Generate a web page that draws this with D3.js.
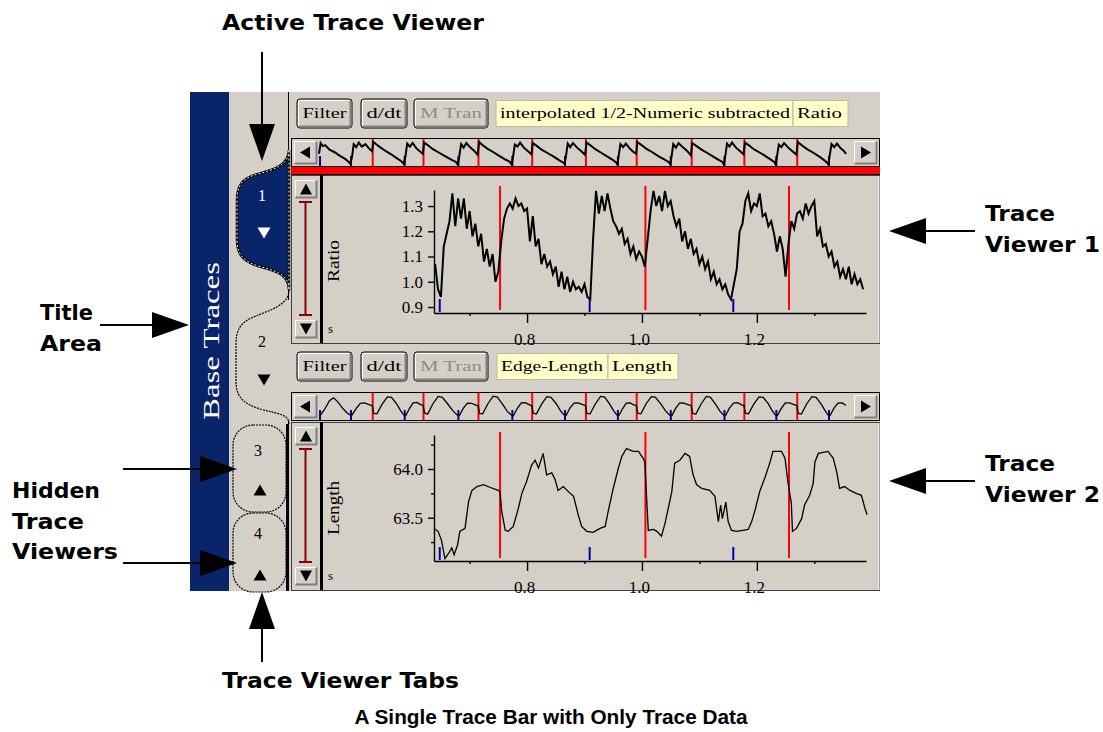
<!DOCTYPE html>
<html>
<head>
<meta charset="utf-8">
<script src="https://cdn.jsdelivr.net/npm/d3@7"></script>
<style>
  body { margin: 0; background: #fff; }
  svg { display: block; }
</style>
</head>
<body>
<svg id="chart" width="1103" height="732"></svg>
<script>
// ---- data ----
// Ratio trace, sampled every 5 ms from 0.640 s
var ratioStart = 0.640, ratioStep = 0.005;
var ratioValues = [
  1.07,0.97,0.94,1.14,1.19,1.24,1.35,1.22,1.33,1.25,
  1.33,1.21,1.28,1.18,1.23,1.14,1.19,1.08,1.13,1.06,
  1.11,1.00,1.04,1.16,1.25,1.29,1.31,1.29,1.33,1.30,
  1.31,1.28,1.29,1.16,1.26,1.14,1.17,1.07,1.11,1.06,
  1.08,1.03,1.06,0.98,1.04,0.97,1.02,0.96,1.00,0.97,
  0.98,0.96,0.99,0.94,0.93,1.17,1.36,1.27,1.34,1.28,
  1.35,1.29,1.24,1.22,1.19,1.21,1.15,1.17,1.11,1.14,
  1.09,1.12,1.10,1.06,1.17,1.28,1.36,1.30,1.34,1.28,
  1.36,1.30,1.32,1.26,1.22,1.25,1.16,1.20,1.13,1.17,
  1.11,1.13,1.07,1.10,1.05,1.08,1.01,1.04,0.99,1.01,
  0.97,0.99,0.95,0.93,0.99,1.05,1.20,1.23,1.32,1.35,
  1.28,1.31,1.30,1.35,1.26,1.27,1.22,1.24,1.19,1.12,
  1.18,1.13,1.02,1.15,1.24,1.21,1.27,1.28,1.25,1.31,
  1.27,1.30,1.32,1.18,1.21,1.14,1.15,1.10,1.12,1.06,
  1.08,1.02,1.05,1.01,1.06,0.99,1.03,0.99,1.01,0.97
];

// Edge-Length trace as [time s, length]
var lengthPoints = [
  [0.638,63.39],[0.645,63.36],[0.651,63.27],[0.657,63.08],[0.663,63.13],[0.669,63.19],
  [0.673,63.12],[0.679,63.22],[0.683,63.36],[0.692,63.39],[0.698,63.66],[0.704,63.78],
  [0.713,63.82],[0.724,63.84],[0.736,63.81],[0.750,63.78],[0.753,63.76],[0.756,63.56],
  [0.762,63.37],[0.767,63.36],[0.776,63.41],[0.785,63.60],[0.791,63.75],[0.799,63.87],
  [0.808,64.04],[0.814,64.09],[0.820,64.01],[0.828,64.16],[0.834,63.94],[0.843,63.96],
  [0.849,63.89],[0.854,63.78],[0.863,63.82],[0.875,63.75],[0.881,63.72],[0.889,63.53],
  [0.895,63.41],[0.904,63.36],[0.915,63.35],[0.927,63.39],[0.936,63.41],[0.941,63.56],
  [0.950,63.80],[0.959,64.01],[0.965,64.13],[0.973,64.21],[0.985,64.18],[0.994,64.18],
  [1.002,64.11],[1.005,64.07],[1.008,63.72],[1.011,63.37],[1.020,63.38],[1.026,63.36],
  [1.034,63.31],[1.040,63.44],[1.046,63.60],[1.052,63.77],[1.057,64.06],[1.066,64.09],
  [1.075,64.16],[1.083,64.13],[1.089,63.94],[1.095,63.84],[1.104,63.80],[1.118,63.78],
  [1.127,63.72],[1.133,63.46],[1.137,63.63],[1.140,63.49],[1.146,63.66],[1.150,63.46],
  [1.156,63.37],[1.165,63.36],[1.185,63.38],[1.191,63.46],[1.197,63.58],[1.205,63.77],
  [1.214,63.91],[1.223,64.07],[1.228,64.18],[1.243,64.18],[1.249,64.11],[1.254,63.87],
  [1.260,63.65],[1.262,63.36],[1.269,63.39],[1.278,63.49],[1.283,63.63],[1.292,63.73],
  [1.298,63.85],[1.301,64.07],[1.307,64.16],[1.324,64.18],[1.333,64.11],[1.339,63.97],
  [1.344,63.80],[1.353,63.82],[1.362,63.78],[1.373,63.75],[1.382,63.73],[1.388,63.60],
  [1.392,63.53]
];

var redEvents = [0.753, 1.006, 1.256];
var blueEvents = [0.648, 0.909, 1.159];
var xMajorTicks = [0.8, 1.0, 1.2];
var xMinorTicks = [0.7, 0.9, 1.1, 1.3];
var ratioTicks = [0.9, 1.0, 1.1, 1.2, 1.3];
var lengthTicks = [63.5, 64.0];
var lengthMinorTicks = [63.25, 63.75, 64.25];

// overview strips (whole recording, time in s)
var overviewRed = [0.257, 0.500, 0.763, 1.020, 1.277, 1.520, 1.783, 2.035, 2.288];
var overviewBlue = [0.005, 0.153, 0.410, 0.667, 0.925, 1.177, 1.430, 1.683, 1.940, 2.188, 2.440];
var overviewRatio = [
  [0.000,1.12],[0.008,1.33],[0.018,1.27],[0.030,1.29],[0.050,1.20],[0.075,1.15],[0.100,1.08],[0.125,1.02],[0.140,0.97],[0.150,0.92],
  [0.158,1.06],[0.166,1.31],[0.178,1.25],[0.190,1.34],[0.205,1.26],[0.222,1.31],[0.240,1.22],[0.254,1.17],
  [0.260,1.35],[0.275,1.30],[0.295,1.24],[0.320,1.17],[0.345,1.11],[0.370,1.04],[0.392,0.98],[0.406,0.92],
  [0.414,1.08],[0.422,1.32],[0.435,1.26],[0.448,1.33],[0.465,1.23],[0.485,1.16],[0.497,1.12],
  [0.503,1.34],[0.520,1.29],[0.545,1.21],[0.575,1.14],[0.605,1.07],[0.635,1.00],[0.655,0.96],[0.664,0.91],
  [0.671,1.07],[0.680,1.31],[0.692,1.24],[0.705,1.33],[0.722,1.25],[0.742,1.18],[0.759,1.10],
  [0.766,1.35],[0.782,1.29],[0.805,1.22],[0.835,1.15],[0.862,1.08],[0.890,1.01],[0.910,0.97],[0.922,0.91],
  [0.929,1.08],[0.937,1.30],[0.950,1.26],[0.962,1.34],[0.980,1.24],[1.000,1.17],[1.016,1.11],
  [1.023,1.33],[1.040,1.28],[1.065,1.20],[1.095,1.13],[1.125,1.06],[1.150,0.99],[1.168,0.95],[1.175,0.92],
  [1.181,1.06],[1.190,1.32],[1.202,1.25],[1.215,1.33],[1.235,1.24],[1.255,1.17],[1.273,1.10],
  [1.280,1.34],[1.297,1.29],[1.322,1.21],[1.350,1.14],[1.378,1.07],[1.405,1.00],[1.422,0.95],[1.428,0.91],
  [1.434,1.09],[1.442,1.31],[1.455,1.25],[1.468,1.32],[1.485,1.23],[1.503,1.16],[1.517,1.12],
  [1.523,1.35],[1.540,1.30],[1.565,1.22],[1.595,1.15],[1.625,1.07],[1.652,1.01],[1.672,0.96],[1.680,0.92],
  [1.687,1.07],[1.695,1.31],[1.708,1.24],[1.720,1.33],[1.740,1.25],[1.760,1.18],[1.779,1.09],
  [1.786,1.33],[1.803,1.28],[1.830,1.20],[1.860,1.13],[1.888,1.06],[1.912,1.00],[1.930,0.96],[1.937,0.91],
  [1.944,1.08],[1.952,1.32],[1.964,1.26],[1.976,1.34],[1.995,1.24],[2.015,1.17],[2.031,1.11],
  [2.038,1.34],[2.055,1.29],[2.080,1.21],[2.110,1.14],[2.138,1.07],[2.160,1.01],[2.178,0.96],[2.185,0.91],
  [2.191,1.07],[2.200,1.30],[2.212,1.25],[2.225,1.33],[2.245,1.24],[2.265,1.17],[2.284,1.10],
  [2.291,1.35],[2.308,1.29],[2.335,1.21],[2.365,1.14],[2.392,1.07],[2.415,1.00],[2.430,0.95],[2.437,0.91],
  [2.443,1.08],[2.452,1.31],[2.465,1.25],[2.478,1.32],[2.495,1.23],[2.510,1.18],[2.522,1.12]
];
var overviewLength = [
  [0.000,63.32],[0.005,63.30],[0.025,63.55],[0.050,63.95],[0.070,64.08],[0.090,63.90],[0.115,63.60],[0.135,63.42],[0.150,63.33],
  [0.158,63.33],[0.178,63.62],[0.198,63.84],[0.218,63.86],[0.242,63.77],[0.255,63.74],[0.262,63.40],[0.277,63.38],[0.302,63.80],[0.327,64.12],[0.347,64.10],[0.372,63.80],[0.392,63.50],[0.405,63.34],
  [0.415,63.30],[0.432,63.60],[0.450,63.86],[0.468,63.88],[0.486,63.78],[0.498,63.75],[0.505,63.42],[0.520,63.37],[0.545,63.82],[0.570,64.14],[0.590,64.10],[0.615,63.82],[0.640,63.52],[0.662,63.32],
  [0.672,63.31],[0.690,63.62],[0.710,63.85],[0.730,63.84],[0.750,63.76],[0.761,63.74],[0.768,63.40],[0.783,63.38],[0.808,63.82],[0.833,64.15],[0.853,64.11],[0.878,63.80],[0.900,63.50],[0.920,63.33],
  [0.930,63.30],[0.948,63.61],[0.968,63.86],[0.988,63.87],[1.007,63.77],[1.018,63.73],[1.025,63.41],[1.040,63.37],[1.065,63.80],[1.090,64.13],[1.110,64.10],[1.135,63.82],[1.155,63.52],[1.172,63.33],
  [1.182,63.31],[1.200,63.63],[1.220,63.85],[1.240,63.86],[1.262,63.78],[1.275,63.74],[1.282,63.40],[1.297,63.38],[1.322,63.81],[1.347,64.14],[1.367,64.11],[1.390,63.81],[1.410,63.51],[1.425,63.33],
  [1.435,63.31],[1.452,63.60],[1.470,63.85],[1.488,63.86],[1.506,63.77],[1.518,63.74],[1.525,63.41],[1.540,63.38],[1.565,63.82],[1.590,64.13],[1.610,64.10],[1.635,63.81],[1.658,63.51],[1.678,63.32],
  [1.688,63.30],[1.706,63.62],[1.726,63.86],[1.746,63.85],[1.768,63.77],[1.781,63.74],[1.788,63.40],[1.803,63.37],[1.828,63.81],[1.853,64.14],[1.873,64.10],[1.897,63.80],[1.918,63.50],[1.935,63.33],
  [1.945,63.31],[1.963,63.62],[1.983,63.85],[2.003,63.87],[2.022,63.77],[2.033,63.74],[2.040,63.41],[2.055,63.38],[2.080,63.80],[2.105,64.12],[2.125,64.10],[2.150,63.81],[2.168,63.52],[2.183,63.33],
  [2.193,63.31],[2.211,63.61],[2.231,63.86],[2.251,63.86],[2.273,63.78],[2.286,63.74],[2.293,63.40],[2.308,63.37],[2.333,63.81],[2.358,64.13],[2.378,64.10],[2.402,63.81],[2.422,63.51],[2.435,63.33],
  [2.445,63.31],[2.463,63.62],[2.483,63.85],[2.503,63.86],[2.520,63.75]
];

var GRAY = '#d4d0c8', NAVY = '#0a246a', SERIF = '"Liberation Serif", "DejaVu Serif", serif';
var ANNO = '"DejaVu Sans", Verdana, sans-serif';

const svg = d3.select('#chart');

// ---- window chrome ----
svg.append('rect').attr('x', 229).attr('y', 92).attr('width', 651).attr('height', 499).attr('fill', GRAY);
svg.append('line').attr('x1', 880.5).attr('x2', 880.5).attr('y1', 92).attr('y2', 591).attr('stroke', '#fff');
svg.append('rect').attr('x', 190).attr('y', 92).attr('width', 39).attr('height', 499).attr('fill', NAVY);
svg.append('text').attr('transform', 'translate(219,341) rotate(-90)')
  .attr('text-anchor', 'middle').attr('fill', '#fff')
  .style('font-family', SERIF).style('font-size', '24px')
  .attr('textLength', 158).attr('lengthAdjust', 'spacingAndGlyphs')
  .text('Base Traces');

// tab column edge
[[92, 152], [285, 300], [420, 591]].forEach(function(s) {
  svg.append('line').attr('x1', 288.5).attr('x2', 288.5).attr('y1', s[0]).attr('y2', s[1])
    .attr('stroke', '#000');
});
svg.append('line').attr('x1', 287).attr('x2', 287).attr('y1', 424).attr('y2', 591)
  .attr('stroke', '#000').attr('stroke-width', 2);

// tabs
var tab1 = 'M289,150 C289,166 272,170 258,174 C242,178 237,186 237,200 L237,240 C237,254 243,261 258,266 C276,271 289,274 289,290 Z';
svg.append('path').attr('d', tab1).attr('fill', NAVY).attr('stroke', '#000').attr('stroke-width', 2.5);
svg.append('path').attr('d', tab1).attr('fill', 'none').attr('stroke', '#fff').attr('stroke-dasharray', '2,2');
var tab2 = 'M289,290 C289,305 270,310 256,316 C240,322 236,330 236,345 L236,382 C236,398 245,404 260,409 C278,414 289,414 289,424';
svg.append('path').attr('d', tab2).attr('fill', 'none').attr('stroke', '#000').attr('stroke-width', 1.2).attr('stroke-dasharray', '2,1');
[[425, 512], [513, 592]].forEach(function(r) {
  svg.append('rect').attr('x', 233).attr('y', r[0]).attr('width', 53).attr('height', r[1] - r[0])
    .attr('rx', 20).attr('fill', GRAY).attr('stroke', '#000').attr('stroke-width', 1.2).attr('stroke-dasharray', '2,1');
});
var tabLabels = [
  {txt: '1', x: 262, y: 201, up: false, cy: 233, col: '#fff'},
  {txt: '2', x: 262, y: 347, up: false, cy: 380, col: '#000'},
  {txt: '3', x: 258, y: 456, up: true, cy: 490, col: '#000'},
  {txt: '4', x: 258, y: 539, up: true, cy: 575, col: '#000'}
];
tabLabels.forEach(function(t) {
  svg.append('text').attr('x', t.x).attr('y', t.y).attr('text-anchor', 'middle')
    .attr('fill', t.col).style('font-family', SERIF).style('font-size', '16px').text(t.txt);
  svg.append('path').attr('d', tri(t.x + 2, t.cy, 13, 11, t.up)).attr('fill', t.col);
});

function tri(cx, cy, w, h, up) {
  return up
    ? 'M' + (cx - w / 2) + ',' + (cy + h / 2) + 'L' + (cx + w / 2) + ',' + (cy + h / 2) + 'L' + cx + ',' + (cy - h / 2) + 'Z'
    : 'M' + (cx - w / 2) + ',' + (cy - h / 2) + 'L' + (cx + w / 2) + ',' + (cy - h / 2) + 'L' + cx + ',' + (cy + h / 2) + 'Z';
}
function triLR(cx, cy, w, h, left) {
  return left
    ? 'M' + (cx + w / 2) + ',' + (cy - h / 2) + 'L' + (cx + w / 2) + ',' + (cy + h / 2) + 'L' + (cx - w / 2) + ',' + cy + 'Z'
    : 'M' + (cx - w / 2) + ',' + (cy - h / 2) + 'L' + (cx - w / 2) + ',' + (cy + h / 2) + 'L' + (cx + w / 2) + ',' + cy + 'Z';
}

function raised(g, x, y, w, h, border) {
  g.append('rect').attr('x', x).attr('y', y).attr('width', w).attr('height', h)
    .attr('rx', border ? 3 : 0).attr('fill', GRAY).attr('stroke', border ? '#000' : 'none');
  g.append('path').attr('d', 'M' + (x + 1.5) + ',' + (y + h - 2) + 'V' + (y + 1.5) + 'H' + (x + w - 2))
    .attr('fill', 'none').attr('stroke', '#fff');
  g.append('path').attr('d', 'M' + (x + 1.5) + ',' + (y + h - 1.5) + 'H' + (x + w - 1.5) + 'V' + (y + 1.5))
    .attr('fill', 'none').attr('stroke', '#808080').attr('stroke-width', 2);
}

function toolbar(y, labels) {
  var g = svg.append('g');
  var btns = [
    {x: 297, w: 55, t: 'Filter', tl: 44, dis: false},
    {x: 361, w: 46, t: 'd/dt', tl: 35, dis: false},
    {x: 414, w: 74, t: 'M Tran', tl: 62, dis: true}
  ];
  btns.forEach(function(b) {
    raised(g, b.x, y, b.w, 29, true);
    g.append('text').attr('x', b.x + b.w / 2).attr('y', y + 19).attr('text-anchor', 'middle')
      .attr('fill', b.dis ? '#8c8c8c' : '#000')
      .style('font-family', SERIF).style('font-size', '15px')
      .attr('textLength', b.tl).attr('lengthAdjust', 'spacingAndGlyphs').text(b.t);
  });
  labels.forEach(function(l) {
    g.append('rect').attr('x', l.x).attr('y', y + 1.5).attr('width', l.w).attr('height', 26)
      .attr('fill', '#ffffc8').attr('stroke', '#b8b8a8');
    g.append('text').attr('x', l.x + 4).attr('y', y + 19)
      .style('font-family', SERIF).style('font-size', '15px')
      .attr('textLength', l.tl).attr('lengthAdjust', 'spacingAndGlyphs').text(l.t);
  });
}
toolbar(99, [
  {x: 496, w: 297, t: 'interpolated 1/2-Numeric subtracted', tl: 290},
  {x: 793, w: 55, t: 'Ratio', tl: 45}
]);
toolbar(352, [
  {x: 497, w: 111, t: 'Edge-Length', tl: 102},
  {x: 608, w: 70, t: 'Length', tl: 60}
]);

// ---- overview strips ----
var xo = d3.scaleLinear().domain([0, 2.55]).range([319, 852]);
function strip(top, yScale, pts, active) {
  var g = svg.append('g');
  g.append('rect').attr('x', 291.5).attr('y', top + 0.5).attr('width', 588).attr('height', 28)
    .attr('fill', GRAY).attr('stroke', '#000');
  g.selectAll('line.red').data(overviewRed).enter().append('line')
    .attr('x1', d => xo(d)).attr('x2', d => xo(d)).attr('y1', top + 1).attr('y2', top + 28)
    .attr('stroke', '#ff0000').attr('stroke-width', 2);
  g.selectAll('line.blue').data(overviewBlue).enter().append('line')
    .attr('x1', d => xo(d)).attr('x2', d => xo(d)).attr('y1', top + 18).attr('y2', top + 28)
    .attr('stroke', '#0000a0').attr('stroke-width', 2);
  g.append('path').datum(pts)
    .attr('d', d3.line().x(d => xo(d[0])).y(d => yScale(d[1])))
    .attr('fill', 'none').attr('stroke', '#000').attr('stroke-width', active ? 2 : 1.3);
  raised(g, 293, top + 2, 25, 25, false);
  g.append('path').attr('d', triLR(305, top + 14.5, 10, 12, true)).attr('fill', '#000');
  raised(g, 853, top + 2, 25, 25, false);
  g.append('path').attr('d', triLR(866, top + 14.5, 10, 12, false)).attr('fill', '#000');
  if (active) {
    g.append('rect').attr('x', 291).attr('y', top + 29).attr('width', 589).attr('height', 7).attr('fill', '#ff0000');
    g.append('line').attr('x1', 291).attr('x2', 880).attr('y1', top + 36.5).attr('y2', top + 36.5).attr('stroke', '#000');
  }
}
strip(138, d3.scaleLinear().domain([0.9, 1.37]).range([165, 141]), overviewRatio, true);
strip(392, d3.scaleLinear().domain([63.2, 64.2]).range([418, 395]), overviewLength, false);

// ---- trace viewers ----
var x = d3.scaleLinear().domain([0.638, 1.390]).range([434, 866]);

function viewer(top, bottom, yScale, yTicks, yMinor, yFmt, label, labelLen, axisY) {
  var g = svg.append('g');
  g.append('rect').attr('x', 291.5).attr('y', top + 0.5).attr('width', 588).attr('height', bottom - top)
    .attr('fill', GRAY).attr('stroke', '#404040');
  g.append('line').attr('x1', 879).attr('x2', 879).attr('y1', top + 1).attr('y2', bottom).attr('stroke', '#fff');
  g.append('rect').attr('x', 320).attr('y', top).attr('width', 3).attr('height', bottom - top).attr('fill', '#000');
  // scroll column
  raised(g, 294, top + 4, 24, 20, false);
  g.append('path').attr('d', tri(306, top + 14, 12, 11, true)).attr('fill', '#000');
  raised(g, 294, bottom - 24, 24, 20, false);
  g.append('path').attr('d', tri(306, bottom - 14, 12, 11, false)).attr('fill', '#000');
  var iTop = top + 27, iBot = bottom - 28;
  g.append('path').attr('d', 'M299,' + iTop + 'H312M305.5,' + iTop + 'V' + iBot + 'M299,' + iBot + 'H312')
    .attr('fill', 'none').attr('stroke', '#8b0000').attr('stroke-width', 2);
  g.append('text').attr('x', 328).attr('y', bottom - 10).style('font-family', SERIF).style('font-size', '13px').text('s');
  g.append('text').attr('transform', 'translate(339,' + ((top + bottom) / 2 + 2) + ') rotate(-90)')
    .attr('text-anchor', 'middle').style('font-family', SERIF).style('font-size', '16px')
    .attr('textLength', labelLen).attr('lengthAdjust', 'spacingAndGlyphs').text(label);

  // axes
  var yAxis = g.append('g').attr('transform', 'translate(434,0)')
    .call(d3.axisLeft(yScale).tickValues(yTicks).tickSize(6).tickSizeOuter(0).tickPadding(5).tickFormat(d3.format(yFmt)));
  if (yMinor.length) {
    g.append('g').attr('transform', 'translate(434,0)')
      .call(d3.axisLeft(yScale).tickValues(yMinor).tickSize(3).tickSizeOuter(0).tickFormat(''))
      .select('.domain').remove();
  }
  var xAxis = g.append('g').attr('transform', 'translate(0,' + axisY + ')')
    .call(d3.axisBottom(x).tickValues(xMajorTicks).tickSize(10).tickSizeOuter(0).tickPadding(10).tickFormat(d3.format('.1f')));
  g.append('g').attr('transform', 'translate(0,' + axisY + ')')
    .call(d3.axisBottom(x).tickValues(xMinorTicks).tickSize(3).tickSizeOuter(0).tickFormat(''))
    .select('.domain').remove();
  xAxis.selectAll('text').attr('dx', '-3');
  [yAxis, xAxis].forEach(function(a) {
    a.selectAll('text').style('font-family', SERIF).style('font-size', '17px').attr('fill', '#000');
  });
  g.selectAll('.domain, .tick line').attr('stroke', '#000').attr('stroke-width', 1.4);
  return g;
}

// viewer 1: Ratio
var yRatio = d3.scaleLinear().domain([0.8763, 1.3636]).range([313, 190]);
var g1 = viewer(175, 343, yRatio, ratioTicks, [], '.1f', 'Ratio', 42, 313);
g1.selectAll('line.ev-red').data(redEvents).enter().append('line').attr('class', 'ev-red')
  .attr('x1', d => x(d)).attr('x2', d => x(d)).attr('y1', 186).attr('y2', 310)
  .attr('stroke', '#ff0000').attr('stroke-width', 2);
g1.selectAll('line.ev-blue').data(blueEvents).enter().append('line').attr('class', 'ev-blue')
  .attr('x1', d => x(d)).attr('x2', d => x(d)).attr('y1', 299).attr('y2', 312)
  .attr('stroke', '#0000a0').attr('stroke-width', 2);
g1.append('path').datum(ratioValues)
  .attr('d', d3.line()
    .x((d, i) => x(ratioStart + i * ratioStep)).y(d => yRatio(d)))
  .attr('fill', 'none').attr('stroke', '#000').attr('stroke-width', 2);

// viewer 2: Length
var yLength = d3.scaleLinear().domain([63.0555, 64.349]).range([561, 435]);
var g2 = viewer(422, 590, yLength, lengthTicks, lengthMinorTicks, '.1f', 'Length', 54, 561);
g2.selectAll('line.ev-red').data(redEvents).enter().append('line').attr('class', 'ev-red')
  .attr('x1', d => x(d)).attr('x2', d => x(d)).attr('y1', 432).attr('y2', 558)
  .attr('stroke', '#ff0000').attr('stroke-width', 2);
g2.selectAll('line.ev-blue').data(blueEvents).enter().append('line').attr('class', 'ev-blue')
  .attr('x1', d => x(d)).attr('x2', d => x(d)).attr('y1', 547).attr('y2', 560)
  .attr('stroke', '#0000a0').attr('stroke-width', 2);
g2.append('path').datum(lengthPoints)
  .attr('d', d3.line().x(d => x(d[0])).y(d => yLength(d[1])))
  .attr('fill', 'none').attr('stroke', '#000').attr('stroke-width', 1.3);

// ---- annotations ----
var notes = [
  {t: 'Active Trace Viewer', x: 222, y: 30, w: 262},
  {t: 'Title', x: 40, y: 320, w: 53},
  {t: 'Area', x: 40, y: 351, w: 62},
  {t: 'Hidden', x: 12, y: 498, w: 88},
  {t: 'Trace', x: 12, y: 529, w: 72},
  {t: 'Viewers', x: 12, y: 559, w: 106},
  {t: 'Trace', x: 985, y: 221, w: 70},
  {t: 'Viewer 1', x: 985, y: 252, w: 115},
  {t: 'Trace', x: 985, y: 471, w: 70},
  {t: 'Viewer 2', x: 985, y: 502, w: 115},
  {t: 'Trace Viewer Tabs', x: 222, y: 688, w: 237}
];
svg.selectAll('text.note').data(notes).enter().append('text').attr('class', 'note')
  .attr('x', d => d.x).attr('y', d => d.y).attr('textLength', d => d.w).attr('lengthAdjust', 'spacingAndGlyphs')
  .style('font-family', ANNO).style('font-weight', 'bold').style('font-size', '21px').text(d => d.t);

// arrows: [x1,y1] tail, [x2,y2] tip
var arrows = [
  [262, 52, 262, 161],
  [262, 662, 262, 592],
  [100, 325, 189, 325],
  [123, 469, 237, 469],
  [123, 563, 237, 563],
  [975, 231, 889, 231],
  [975, 481, 889, 481]
];
arrows.forEach(function(a) {
  var dx = a[2] - a[0], dy = a[3] - a[1], len = Math.sqrt(dx * dx + dy * dy);
  var ux = dx / len, uy = dy / len, hl = 37, hw = 13;
  var bx = a[2] - ux * hl, by = a[3] - uy * hl;
  svg.append('line').attr('x1', a[0]).attr('y1', a[1]).attr('x2', bx).attr('y2', by)
    .attr('stroke', '#000').attr('stroke-width', 2);
  svg.append('path').attr('d', 'M' + a[2] + ',' + a[3] + 'L' + (bx - uy * hw) + ',' + (by + ux * hw) +
    'L' + (bx + uy * hw) + ',' + (by - ux * hw) + 'Z').attr('fill', '#000');
});

svg.append('text').attr('x', 551).attr('y', 724).attr('text-anchor', 'middle')
  .attr('textLength', 393).attr('lengthAdjust', 'spacingAndGlyphs')
  .style('font-family', '"Liberation Sans", Arial, sans-serif').style('font-weight', 'bold').style('font-size', '20px')
  .text('A Single Trace Bar with Only Trace Data');
</script>
</body>
</html>
